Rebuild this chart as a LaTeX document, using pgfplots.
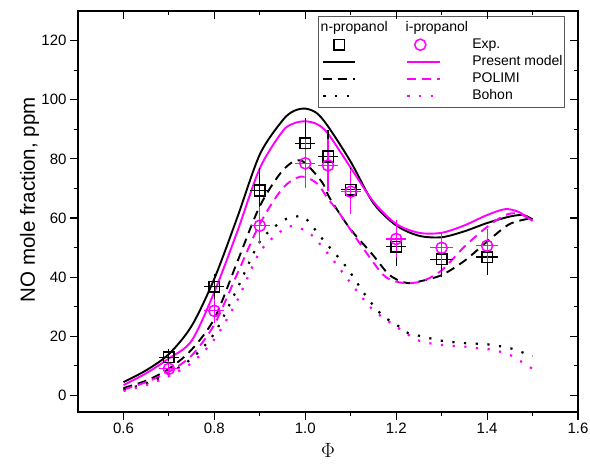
\documentclass[border=0pt]{standalone}
\usepackage{pgfplots}
\pgfplotsset{compat=1.18}
\usepackage{pgfplotstable}
\usepackage{fontspec}
\setmainfont{Liberation Sans}
\definecolor{mag}{RGB}{255,0,255}

\pgfplotstableread{
x y ex ey
0.70 12.9 0.012 1.2
0.80 36.7 0.012 3.0
0.90 69.3 0.012 6.0
1.00 85.3 0.012 7.0
1.05 80.8 0.012 7.3
1.10 69.5 0.012 6.0
1.20 50.3 0.012 5.0
1.30 46.1 0.015 4.6
1.40 46.8 0.015 4.4
}\expn

\pgfplotstableread{
x y ex ey
0.70 9.0 0.012 1.0
0.80 28.6 0.012 2.5
0.90 57.4 0.012 4.8
1.00 78.5 0.012 7.0
1.05 77.8 0.012 7.3
1.10 68.9 0.012 6.0
1.20 52.9 0.012 5.0
1.30 49.9 0.015 4.0
1.40 50.6 0.015 4.3
}\expi

\pgfplotstableread{
x y
0.60 4.5
0.65 8.5
0.70 14.0
0.75 23.5
0.80 39.5
0.85 60.0
0.90 81.5
0.95 93.0
0.975 96.2
1.00 97.0
1.025 95.5
1.05 91.0
1.10 79.0
1.15 65.0
1.20 57.5
1.25 54.0
1.30 53.5
1.35 55.5
1.40 58.3
1.45 60.5
1.48 61.0
1.50 59.5
}\presn

\pgfplotstableread{
x y
0.60 3.5
0.65 7.5
0.70 12.5
0.75 18.5
0.80 35.0
0.85 55.2
0.90 76.8
0.95 89.3
0.975 92.0
1.00 92.7
1.025 91.8
1.05 88.5
1.10 77.0
1.15 65.5
1.20 58.0
1.25 55.0
1.30 55.0
1.35 57.5
1.40 61.0
1.44 63.0
1.47 62.0
1.50 59.0
}\presi

\pgfplotstableread{
x y
0.60 2.5
0.65 5.0
0.70 9.0
0.75 15.5
0.80 26.0
0.85 45.0
0.90 64.0
0.95 76.0
0.99 79.5
1.036 72.3
1.054 66.7
1.098 56.5
1.146 48.0
1.18 41.5
1.20 39.3
1.225 38.0
1.25 38.5
1.30 40.7
1.35 45.5
1.40 52.0
1.45 58.0
1.50 60.0
}\polin

\pgfplotstableread{
x y
0.60 2.0
0.65 4.5
0.70 8.0
0.75 13.5
0.80 24.0
0.85 41.0
0.90 58.0
0.95 70.0
0.99 74.0
1.025 71.8
1.05 66.5
1.075 61.6
1.12 51.4
1.17 41.0
1.20 38.5
1.23 38.0
1.26 38.8
1.30 42.3
1.35 50.3
1.40 57.0
1.44 61.0
1.47 61.5
1.50 59.0
}\polii

\pgfplotstableread{
x y
0.60 2.0
0.65 4.0
0.70 7.5
0.75 12.5
0.80 21.0
0.85 36.0
0.90 52.0
0.95 59.0
0.98 60.5
1.00 60.0
1.04 52.5
1.09 43.5
1.135 33.3
1.17 27.0
1.20 24.0
1.227 21.0
1.25 20.2
1.30 18.5
1.35 17.7
1.40 17.3
1.45 16.0
1.475 14.7
1.50 13.3
}\bohn

\pgfplotstableread{
x y
0.60 1.5
0.65 3.5
0.70 6.5
0.75 11.0
0.80 19.0
0.85 32.0
0.90 48.5
0.95 56.0
0.97 57.2
1.01 54.8
1.06 46.0
1.11 36.0
1.15 28.8
1.20 23.3
1.234 19.8
1.256 18.2
1.28 17.5
1.31 16.9
1.33 16.7
1.36 16.4
1.385 15.8
1.41 15.5
1.435 14.5
1.46 13.0
1.48 10.9
1.50 9.0
}\bohi

\newcommand{\hdrimg}[2]{\addlegendimage{legend image code/.code={\node[anchor=west,inner sep=0pt,text height=11bp,text depth=4bp,font=\fontsize{14bp}{16bp}\selectfont,draw=none,fill=none] at (0bp,0bp) {#1}; \path[draw=none,fill=none] (0bp,0bp) -- (#2,0bp);}}\addlegendentry{}}
\newcommand{\lineimg}[4]{\addlegendimage{legend image code/.code={\draw[#1] (#2,0bp) -- (#3,0bp); \path[draw=none,fill=none] (0bp,0bp) -- (#4,0bp);}}\addlegendentry{}}
\newcommand{\markimg}[3]{\addlegendimage{legend image code/.code={\draw[#1] plot coordinates {(#2,0bp)}; \path[draw=none,fill=none] (0bp,0bp) -- (#3,0bp);}}\addlegendentry{}}
\newcommand{\textentry}[1]{\addlegendimage{empty legend}\addlegendentry{#1}}

\begin{document}
\begin{tikzpicture}
\useasboundingbox (-78bp,-54bp) rectangle (512bp,412bp);
\begin{axis}[
  at={(0,0)}, anchor=south west,
  scale only axis, width=500bp, height=401bp,
  xmin=0.5, xmax=1.6, ymin=-5.6, ymax=130,
  xtick={0.6,0.8,1.0,1.2,1.4,1.6},
  minor xtick={0.7,0.9,1.1,1.3,1.5},
  ytick={0,20,40,60,80,100,120},
  minor ytick={10,30,50,70,90,110},
  xtick pos=left, ytick pos=left, tick align=outside,
  major tick length=8bp, minor tick length=4bp,
  axis line style={line width=1.3bp},
  every tick/.style={line width=1.1bp, black},
  /pgf/number format/assume math mode=true,
  x tick label style={/pgf/number format/.cd, fixed, fixed zerofill, precision=1, /tikz/.cd},
  tick label style={font=\fontsize{15bp}{18bp}\selectfont},
  xlabel={\fontsize{19bp}{21bp}\selectfont$\Phi$},
  ylabel={\fontsize{20.5bp}{24bp}\selectfont NO mole fraction, ppm},
  xlabel style={at={(axis description cs:0.5,-0.097)}, anchor=center},
  ylabel style={at={(axis description cs:-0.097,0.529)}, anchor=center, rotate=0},
  legend columns=3,
  legend cell align=left,
  legend style={at={(0.974,0.988)}, anchor=north east, draw=black!65, line width=0.8bp,
    font=\fontsize{14bp}{16bp}\selectfont, inner xsep=2bp, inner ysep=4bp,
    row sep=2bp, column sep=0bp,
    nodes={inner sep=0pt, text height=11bp, text depth=4bp}},
]
% model curves
\addplot[forget plot, black, line width=1.9bp, smooth] table[x=x,y=y] {\presn};
\addplot[forget plot, mag, line width=1.9bp, smooth] table[x=x,y=y] {\presi};
\addplot[forget plot, black, line width=1.9bp, smooth, dash pattern=on 9bp off 6bp] table[x=x,y=y] {\polin};
\addplot[forget plot, mag, line width=1.9bp, smooth, dash pattern=on 9bp off 6bp] table[x=x,y=y] {\polii};
\addplot[forget plot, black, line width=2.2bp, smooth, dash pattern=on 2.2bp off 9.5bp] table[x=x,y=y] {\bohn};
\addplot[forget plot, mag, line width=2.2bp, smooth, dash pattern=on 2.2bp off 9.5bp] table[x=x,y=y] {\bohi};
% experiments
\addplot[forget plot, only marks, black, mark=square, mark size=5.3bp, mark options={line width=1.6bp, black},
  error bars/.cd, x dir=both, x explicit, y dir=both, y explicit,
  error bar style={line width=1.1bp, black}, error mark options={line width=1.1bp, mark size=4.5bp, black}]
  table[x=x, y=y, x error=ex, y error=ey] {\expn};
\addplot[forget plot, only marks, mag, mark=o, mark size=5.6bp, mark options={line width=1.5bp, mag},
  error bars/.cd, x dir=both, x explicit, y dir=both, y explicit,
  error bar style={line width=1.1bp, mag}, error mark options={line width=1.1bp, mark size=4.5bp, mag}]
  table[x=x, y=y, x error=ex, y error=ey] {\expi};
% legend
\hdrimg{n-propanol}{84bp}
\hdrimg{i-propanol}{66bp}
\textentry{}
\markimg{black, line width=1.6bp, mark=square, mark size=5.3bp, only marks}{19bp}{84bp}
\markimg{mag, line width=1.5bp, mark=o, mark size=5.6bp, only marks}{15bp}{66bp}
\textentry{Exp.}
\lineimg{black, line width=1.9bp}{3bp}{35bp}{84bp}
\lineimg{mag, line width=1.9bp}{2bp}{35bp}{66bp}
\textentry{Present model}
\lineimg{black, line width=1.9bp, dash pattern=on 9bp off 6bp}{3bp}{35bp}{84bp}
\lineimg{mag, line width=1.9bp, dash pattern=on 9bp off 6bp}{2bp}{35bp}{66bp}
\textentry{POLIMI}
\lineimg{black, line width=2.2bp, dash pattern=on 2.2bp off 9.5bp}{3bp}{35bp}{84bp}
\lineimg{mag, line width=2.2bp, dash pattern=on 2.2bp off 9.5bp}{2bp}{35bp}{66bp}
\textentry{Bohon}
\end{axis}
\begin{axis}[
  at={(0,0)}, anchor=south west,
  scale only axis, width=500bp, height=401bp,
  xmin=0.5, xmax=1.6, ymin=-5.6, ymax=130,
  xtick={0.6,0.8,1.0,1.2,1.4,1.6},
  minor xtick={0.7,0.9,1.1,1.3,1.5},
  ytick={0,20,40,60,80,100,120},
  minor ytick={10,30,50,70,90,110},
  xtick pos=right, ytick pos=right, tick align=inside,
  major tick length=8bp, minor tick length=4bp,
  axis line style={line width=1.3bp},
  every tick/.style={line width=1.1bp, black},
  xticklabels={}, yticklabels={},
]
\end{axis}
\end{tikzpicture}
\end{document}
